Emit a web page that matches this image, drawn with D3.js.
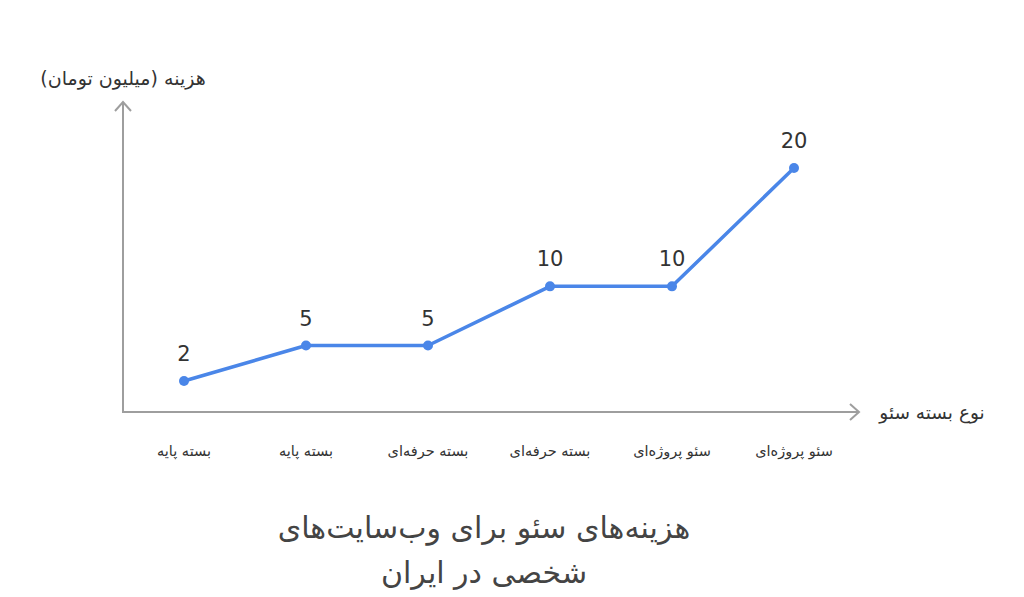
<!DOCTYPE html>
<html>
<head>
<meta charset="utf-8">
<title>SEO costs</title>
<script src="https://cdn.jsdelivr.net/npm/d3@7"></script>
<style>
    body { margin: 0; background: #fff; }
    text { font-family: "DejaVu Sans", "Noto Sans", sans-serif; }
</style>
</head>
<body>
<div id="chart"></div>

<script>
    // package names, left to right
    var categories = ["بسته پایه", "بسته پایه", "بسته حرفه‌ای", "بسته حرفه‌ای", "سئو پروژه‌ای", "سئو پروژه‌ای"];
    // cost in million toman
    var costs = [2, 5, 5, 10, 10, 20];

    var titleLines = ["هزینه‌های سئو برای وب‌سایت‌های", "شخصی در ایران"];
    var yLabel = "هزینه (میلیون تومان)";
    var xLabel = "نوع بسته سئو";

    var W = 1024, H = 597;
    var svg = d3.select("#chart").append("svg")
        .attr("width", W)
        .attr("height", H);

    var x = d3.scaleBand()
        .domain(d3.range(categories.length))
        .range([123, 855]);

    var y = d3.scaleLinear()
        .domain([0, 20])
        .range([404.7, 168]);

    var axisColor = "#9e9e9e";
    var blue = "#4a86e8";

    // axes with open arrow heads
    svg.append("line")
        .attr("x1", 123).attr("y1", 412)
        .attr("x2", 123).attr("y2", 102)
        .attr("stroke", axisColor).attr("stroke-width", 2);
    svg.append("path")
        .attr("d", "M115,111 L123,102 L131,111")
        .attr("fill", "none").attr("stroke", axisColor).attr("stroke-width", 2);

    svg.append("line")
        .attr("x1", 122).attr("y1", 412)
        .attr("x2", 859).attr("y2", 412)
        .attr("stroke", axisColor).attr("stroke-width", 2);
    svg.append("path")
        .attr("d", "M850,404 L859,412 L850,420")
        .attr("fill", "none").attr("stroke", axisColor).attr("stroke-width", 2);

    svg.append("text")
        .attr("x", 123).attr("y", 85)
        .attr("text-anchor", "middle")
        .attr("font-size", 19)
        .attr("fill", "#333")
        .text(yLabel);

    svg.append("text")
        .attr("x", 932).attr("y", 419)
        .attr("text-anchor", "middle")
        .attr("font-size", 18.5)
        .attr("fill", "#333")
        .text(xLabel);

    // category labels
    svg.selectAll("text.cat")
        .data(categories)
        .enter().append("text")
        .attr("class", "cat")
        .attr("x", function (d, i) { return x(i) + x.bandwidth() / 2; })
        .attr("y", 456)
        .attr("text-anchor", "middle")
        .attr("font-size", 14.5)
        .attr("fill", "#333")
        .text(function (d) { return d; });

    // the line
    var line = d3.line()
        .x(function (d, i) { return x(i) + x.bandwidth() / 2; })
        .y(function (d) { return y(d); });

    svg.append("path")
        .datum(costs)
        .attr("d", line)
        .attr("fill", "none")
        .attr("stroke", blue)
        .attr("stroke-width", 3.5)
        .attr("stroke-linejoin", "round");

    svg.selectAll("circle.pt")
        .data(costs)
        .enter().append("circle")
        .attr("class", "pt")
        .attr("cx", function (d, i) { return x(i) + x.bandwidth() / 2; })
        .attr("cy", function (d) { return y(d); })
        .attr("r", 5)
        .attr("fill", blue);

    svg.selectAll("text.val")
        .data(costs)
        .enter().append("text")
        .attr("class", "val")
        .attr("x", function (d, i) { return x(i) + x.bandwidth() / 2; })
        .attr("y", function (d) { return y(d) - 20; })
        .attr("text-anchor", "middle")
        .attr("font-family", "Roboto, sans-serif")
        .attr("font-size", 21)
        .attr("fill", "#333")
        .text(function (d) { return d; });

    // title
    svg.selectAll("text.title")
        .data(titleLines)
        .enter().append("text")
        .attr("class", "title")
        .attr("x", 484)
        .attr("y", function (d, i) { return 538 + i * 45; })
        .attr("text-anchor", "middle")
        .attr("font-size", 30)
        .attr("fill", "#444")
        .text(function (d) { return d; });
</script>
</body>
</html>
